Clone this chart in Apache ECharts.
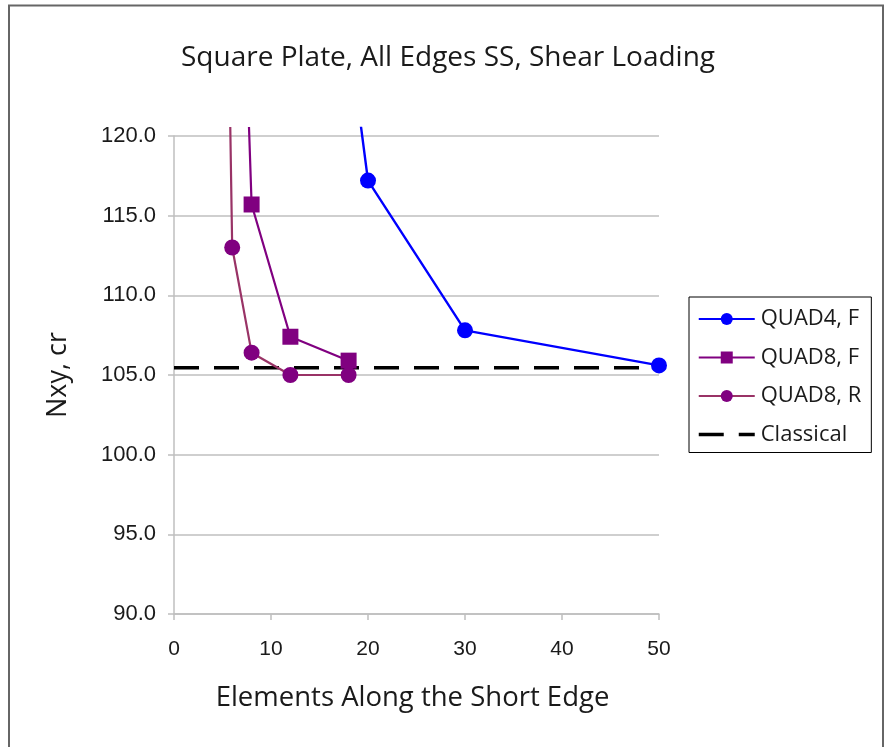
<!DOCTYPE html>
<html>
<head>
<meta charset="utf-8">
<script src="https://cdn.jsdelivr.net/npm/echarts@6/dist/echarts.min.js"></script>
<style>
html,body{margin:0;padding:0;background:#fff;}
#chart{width:885px;height:747px;}
</style>
</head>
<body>
<div id="chart"></div>
<script>
// ---- data ----
const titleText = 'Square Plate, All Edges SS, Shear Loading';
const xName = 'Elements Along the Short Edge';
const yName = 'Nxy, cr';
const seriesNames = ['QUAD4, F', 'QUAD8, F', 'QUAD8, R', 'Classical'];

const quad4F_x = [10, 20, 30, 50];
const quad4F_y = [164, 117.2, 107.8, 105.6];

const quad8F_x = [4, 8, 12, 18];
const quad8F_y = [188, 115.7, 107.4, 105.9];

const quad8R_x = [4, 6, 8, 12, 18];
const quad8R_y = [189, 113.0, 106.4, 105.0, 105.0];

const classical_x = [0, 50];
const classical_y = [105.46, 105.46];

const xTicks = [0, 10, 20, 30, 40, 50];
const yTicks = [90, 95, 100, 105, 110, 115, 120];

const pairs = (xs, ys) => xs.map((x, i) => [x, ys[i]]);

const chart = echarts.init(document.getElementById('chart'), null, {renderer: 'canvas'});

const axisGray = '#bfbfbf';
const labelFont = '"Liberation Sans", Arial, sans-serif';
const textFont = '"Open Sans", "Noto Sans", sans-serif';
const dash = [25, 15];

const option = {
  animation: false,
  backgroundColor: '#ffffff',
  graphic: [{
    type: 'rect',
    shape: {x: 9, y: 5.5, width: 874, height: 760},
    style: {fill: 'none', stroke: '#666666', lineWidth: 2},
    silent: true, z: 0
  }],
  title: {
    text: titleText,
    left: 176,
    top: 39,
    textStyle: {fontFamily: textFont, fontSize: 28, fontWeight: 'normal', color: '#1a1a1a'}
  },
  legend: {
    orient: 'vertical',
    left: 689,
    top: 297,
    padding: [11, 10, 7, 8],
    itemGap: 16.5,
    itemWidth: 56,
    itemHeight: 15,
    borderColor: '#000000',
    borderWidth: 1,
    backgroundColor: '#ffffff',
    textStyle: {fontFamily: textFont, fontSize: 22, color: '#1a1a1a', lineHeight: 22, padding: [0, 0, 0, 1]},
    data: [
      {name: seriesNames[0]},
      {name: seriesNames[1]},
      {name: seriesNames[2]},
      {name: seriesNames[3], itemStyle: {opacity: 0}, lineStyle: {type: dash, width: 3.5, color: '#000000'}}
    ]
  },
  grid: [
    {left: 174, right: 226, top: 136, bottom: 133},
    {left: 174, right: 226, top: 128, bottom: 133}
  ],
  xAxis: [{
    gridIndex: 0, type: 'value', min: 0, max: 50, interval: 10,
    name: xName, nameLocation: 'middle', nameGap: 70,
    nameTextStyle: {fontFamily: textFont, fontSize: 27.5, color: '#1a1a1a', padding: [0, 8, 0, 0]},
    axisLine: {show: true, lineStyle: {color: axisGray, width: 1.5}},
    axisTick: {show: true, length: 6, lineStyle: {color: axisGray, width: 1.5}},
    axisLabel: {margin: 25, fontFamily: labelFont, fontSize: 21, color: '#1a1a1a'},
    splitLine: {show: false}
  }, {
    gridIndex: 1, type: 'value', min: 0, max: 50, show: false
  }],
  yAxis: [{
    gridIndex: 0, type: 'value', min: 90, max: 120, interval: 5,
    name: yName, nameLocation: 'middle', nameGap: 102, nameRotate: 90,
    nameTextStyle: {fontFamily: textFont, fontSize: 27, color: '#1a1a1a'},
    axisLine: {show: true, lineStyle: {color: axisGray, width: 1.5}},
    axisTick: {show: true, length: 6, lineStyle: {color: axisGray, width: 1.5}},
    axisLabel: {margin: 18, fontFamily: labelFont, fontSize: 22, color: '#1a1a1a',
      formatter: v => v.toFixed(1)},
    splitLine: {show: true, lineStyle: {color: axisGray, width: 1.5}}
  }, {
    gridIndex: 1, type: 'value', min: 90, max: 120.5, show: false
  }],
  series: [
    {
      name: seriesNames[0], type: 'line', xAxisIndex: 1, yAxisIndex: 1,
      data: pairs(quad4F_x, quad4F_y),
      symbol: 'circle', symbolSize: 16,
      lineStyle: {color: '#0000ff', width: 2.4},
      itemStyle: {color: '#0000ff'},
      clip: true, z: 5
    },
    {
      name: seriesNames[1], type: 'line', xAxisIndex: 1, yAxisIndex: 1,
      data: pairs(quad8F_x, quad8F_y),
      symbol: 'rect', symbolSize: 16,
      lineStyle: {color: '#800080', width: 2.2},
      itemStyle: {color: '#800080'},
      clip: true, z: 4
    },
    {
      name: seriesNames[2], type: 'line', xAxisIndex: 1, yAxisIndex: 1,
      data: pairs(quad8R_x, quad8R_y),
      symbol: 'circle', symbolSize: 16,
      lineStyle: {color: '#993366', width: 2.2},
      itemStyle: {color: '#800080'},
      clip: true, z: 4
    },
    {
      name: seriesNames[3], type: 'line', xAxisIndex: 1, yAxisIndex: 1,
      data: pairs(classical_x, classical_y),
      symbol: 'none', showSymbol: false,
      lineStyle: {color: '#000000', width: 3.5, type: dash},
      itemStyle: {color: '#000000'},
      clip: false, z: 3
    }
  ]
};
chart.setOption(option);
</script>
</body>
</html>
